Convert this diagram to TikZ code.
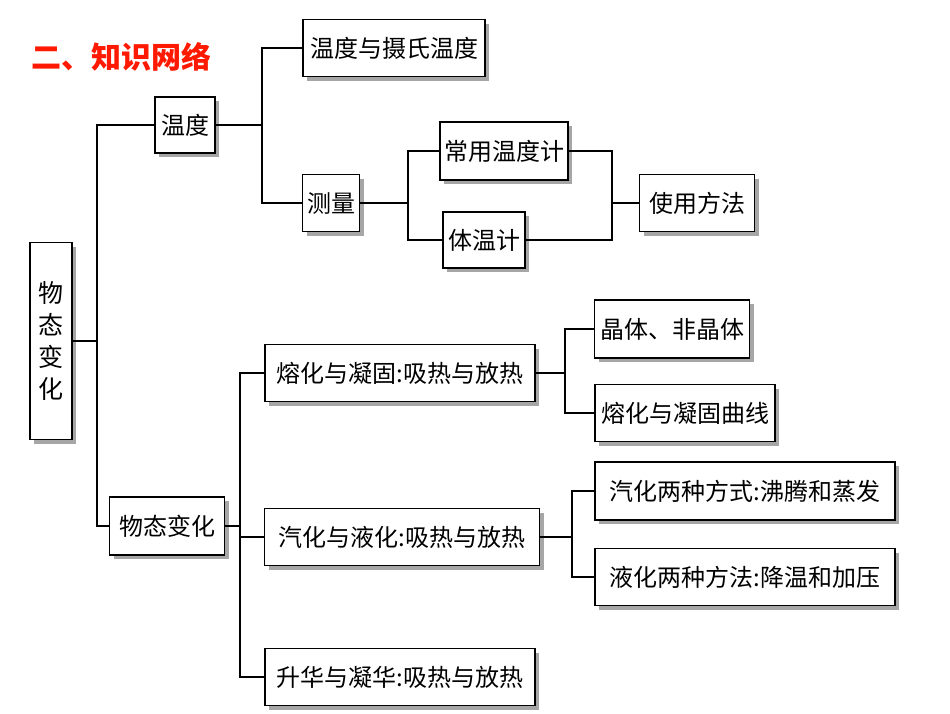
\documentclass[tikz,border=0pt]{standalone}
\usepackage{fontspec}
\newfontfamily\cjk{Noto Sans CJK SC}
\usetikzlibrary{shadows}
\begin{document}
\begin{tikzpicture}[x=1pt,y=-1pt,
  bx/.style={draw,line width=1.6pt,fill=white,font=\cjk\fontsize{24}{28}\selectfont,inner sep=0pt,
    drop shadow={shadow xshift=4pt,shadow yshift=-4pt,fill=gray!70,opacity=1}},
  ln/.style={line width=1.6pt}]
\useasboundingbox (0,0) rectangle (950,713);
\node[text=red!80!orange,font=\cjk\bfseries\fontsize{30}{34}\selectfont,anchor=west] (title) at (28,57) {二、知识网络};
\node[bx,minimum width=42,minimum height=197,align=center,font=\cjk\fontsize{25}{32}\selectfont] (root) at (51,341) {物\\态\\变\\化};
\node[bx,minimum width=60,minimum height=56] (wd) at (185,125) {温度};
\node[bx,minimum width=57,minimum height=57] (cl) at (331,203) {测量};
\node[bx,minimum width=182,minimum height=57] (ss) at (394,48) {温度与摄氏温度};
\node[bx,minimum width=128,minimum height=58] (cy) at (504,151) {常用温度计};
\node[bx,minimum width=82,minimum height=56] (tw) at (484,240) {体温计};
\node[bx,minimum width=115,minimum height=57] (sy) at (697,203) {使用方法};
\node[bx,minimum width=115,minimum height=58] (wt) at (167,526) {物态变化};
\node[bx,minimum width=270,minimum height=57] (rh) at (400,373) {熔化与凝固:吸热与放热};
\node[bx,minimum width=275,minimum height=57] (qh) at (402,537) {汽化与液化:吸热与放热};
\node[bx,minimum width=270,minimum height=57] (sh) at (400,677) {升华与凝华:吸热与放热};
\node[bx,minimum width=155,minimum height=58] (jt) at (672,329) {晶体、非晶体};
\node[bx,minimum width=180,minimum height=57] (qx) at (685,413) {熔化与凝固曲线};
\node[bx,minimum width=300,minimum height=58] (fs) at (745,491) {汽化两种方式:沸腾和蒸发};
\node[bx,minimum width=300,minimum height=57] (ff) at (745,577) {液化两种方法:降温和加压};
% connectors
\coordinate (a) at (97,0); \coordinate (b) at (262,0); \coordinate (c) at (408,0);
\coordinate (d) at (612,0); \coordinate (e) at (240,0); \coordinate (f) at (565,0); \coordinate (g) at (572,0);
\draw[ln] (root.east) -- (root.east -| a);
\draw[ln] (wd.west) -| (wd.west -| a) |- (wt.west);
\draw[ln] (wd.east) -- (wd.east -| b);
\draw[ln] (ss.west) -| (ss.west -| b) |- (cl.west);
\draw[ln] (cl.east) -- (cl.east -| c);
\draw[ln] (cy.west) -| (cy.west -| c) |- (tw.west);
\draw[ln] (cy.east) -| (cy.east -| d) |- (tw.east);
\draw[ln] (sy.west -| d) -- (sy.west);
\draw[ln] (wt.east) -- (wt.east -| e);
\draw[ln] (rh.west) -| (rh.west -| e) |- (sh.west);
\draw[ln] (qh.west -| e) -- (qh.west);
\draw[ln] (rh.east) -- (rh.east -| f);
\draw[ln] (jt.west) -| (jt.west -| f) |- (qx.west);
\draw[ln] (qh.east) -- (qh.east -| g);
\draw[ln] (fs.west) -| (fs.west -| g) |- (ff.west);
\end{tikzpicture}
\end{document}
